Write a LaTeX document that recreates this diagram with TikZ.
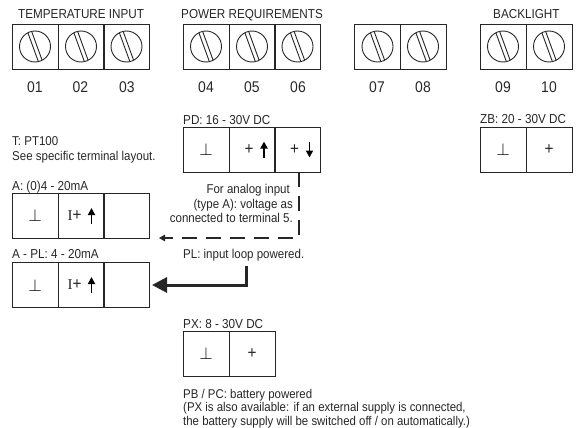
\documentclass[tikz,border=0pt]{standalone}
\usepackage{fontspec}
\setmainfont[FakeStretch=0.9]{Liberation Sans}
\newfontfamily\serifI{Liberation Serif}
\usetikzlibrary{arrows.meta}
\tikzset{
  x=1pt,y=-1pt,
  cell/.style={draw=black!85,line width=0.9pt,minimum width=46pt,minimum height=45pt,inner sep=0pt,outer sep=0pt,anchor=north west,text=black!85,font=\fontsize{17}{17}\selectfont},
  lab/.style={anchor=base west,inner sep=0pt,text=black!85,font=\fontsize{13}{13}\selectfont},
  note/.style={anchor=base west,inner sep=0pt,text=black!85,font=\fontsize{12.8}{14.5}\selectfont},
  num/.style={anchor=base,inner sep=0pt,text=black!85,font=\fontsize{15.5}{15}\selectfont},
  dashline/.style={line width=1.1pt,black!85,dash pattern=on 15pt off 9pt},
  thickline/.style={line width=3pt,black!85,line cap=butt},
}
\newcommand{\screwcell}[3]{%
  \node[cell] (#1) at (#2,#3) {};
  \begin{scope}
    \clip (#1.center) circle (15.5pt);
    \draw[line width=0.9pt,black!85,rotate around={20:(#1.center)}]
      ([xshift=-2pt,yshift=20pt]#1.center) -- ([xshift=-2pt,yshift=-20pt]#1.center)
      ([xshift=2pt,yshift=20pt]#1.center) -- ([xshift=2pt,yshift=-20pt]#1.center);
  \end{scope}
  \draw[line width=0.9pt,black!85] (#1.center) circle (15.5pt);
}
\newcommand{\uparr}[2]{\draw[line width=1.8pt,black,-{Triangle[length=7pt,width=7pt]}] (#1,#2+8) -- (#1,#2-8);}
\newcommand{\dnarr}[2]{\draw[line width=1.8pt,black,-{Triangle[length=7pt,width=7pt]}] (#1,#2-8) -- (#1,#2+8);}
\newcommand{\gnd}{\textcolor{black}{$\perp$}}
\begin{document}
\begin{tikzpicture}
\useasboundingbox (0,0) rectangle (576,428);
\node[lab] (ti) at (18,18.5) {TEMPERATURE INPUT};
\node[lab] (pr) at (181,18.5) {POWER REQUIREMENTS};
\node[lab] (bl) at (493,18.5) {BACKLIGHT};
\screwcell{t1}{12}{24}\screwcell{t2}{58}{24}\screwcell{t3}{103.5}{24}
\screwcell{t4}{183}{24}\screwcell{t5}{229}{24}\screwcell{t6}{274.5}{24}
\screwcell{t7}{354.5}{24}\screwcell{t8}{400}{24}
\screwcell{t9}{480}{24}\screwcell{t10}{526}{24}
\node[num] (n1) at (35,92.5) {01};
\node[num] (n2) at (80.5,92.5) {02};
\node[num] (n3) at (127,92.5) {03};
\node[num] (n4) at (206,92.5) {04};
\node[num] (n5) at (252,92.5) {05};
\node[num] (n6) at (298,92.5) {06};
\node[num] (n7) at (377,92.5) {07};
\node[num] (n8) at (423,92.5) {08};
\node[num] (n9) at (503,92.5) {09};
\node[num] (n10) at (549,92.5) {10};
% PD
\node[lab] (pd) at (183,124.5) {PD: 16 - 30V DC};
\node[cell] (pd1) at (183,127) {\gnd};
\node[cell] (pd2) at (229,127) {};
\node[cell] (pd3) at (274.5,127) {};
\node[cell,draw=none] (pd2p) at (229,127) {\hspace{-6pt}+};
\node[cell,draw=none] (pd3p) at (274.5,127) {\hspace{-6pt}+};
\uparr{264}{149.5}
\dnarr{309.5}{149.5}
% ZB
\node[lab] (zb) at (480,124) {ZB: 20 - 30V DC};
\node[cell] (zb1) at (480,127) {\gnd};
\node[cell] (zb2) at (526,127) {+};
% T
\node[note,align=left,anchor=north west] (tt) at (12,136.5) {T: PT100\\See specific terminal layout.};
% A
\node[lab] (a) at (12,190) {A: (0)4 - 20mA};
\node[cell] (a1) at (12,193) {\gnd};
\node[cell] (a2) at (58,193) {};
\node[cell] (a3) at (103.5,193) {};
\node[cell,draw=none] (a2t) at (58,193) {\hspace{-13pt}{\serifI\fontsize{15}{15}\selectfont I}+};
\uparr{91.5}{216}
% A-PL
\node[lab] (apl) at (12,258) {A - PL: 4 - 20mA};
\node[cell] (b1) at (12,262.5) {\gnd};
\node[cell] (b2) at (58,262.5) {};
\node[cell] (b3) at (103.5,262.5) {};
\node[cell,draw=none] (b2t) at (58,262.5) {\hspace{-13pt}{\serifI\fontsize{15}{15}\selectfont I}+};
\uparr{91.5}{285}
% notes
\node[note,align=right,anchor=north east,font=\fontsize{12.8}{14.7}\selectfont] (fa) at (293,184) {For analog input\hspace*{3pt}\\(type A): voltage as\hspace*{3pt}\\connected to terminal 5.};
\node[note] (pl) at (183,258) {PL: input loop powered.};
% connectors
\coordinate (dashend) at (159,238);
\draw[dashline] (299,172) -- (299,238) -- (172,238);
\draw[line width=1.1pt,black!85,-{Triangle[length=6pt,width=6.5pt]}] (172,238) -- (dashend);
\coordinate (thickend) at (152,285);
\draw[thickline,-{Triangle[length=15pt,width=15pt]}] (246,266) -- (246,285) -- (thickend);
% PX
\node[lab] (px) at (183,328) {PX: 8 - 30V DC};
\node[cell] (px1) at (183,331) {\gnd};
\node[cell] (px2) at (229,331) {+};
\node[note,align=left,anchor=north west,font=\fontsize{12.7}{13.5}\selectfont] (pb) at (183,389) {PB / PC: battery powered\\(PX is also available: if an external supply is connected,\\the battery supply will be switched off / on automatically.)};
\end{tikzpicture}
\end{document}
